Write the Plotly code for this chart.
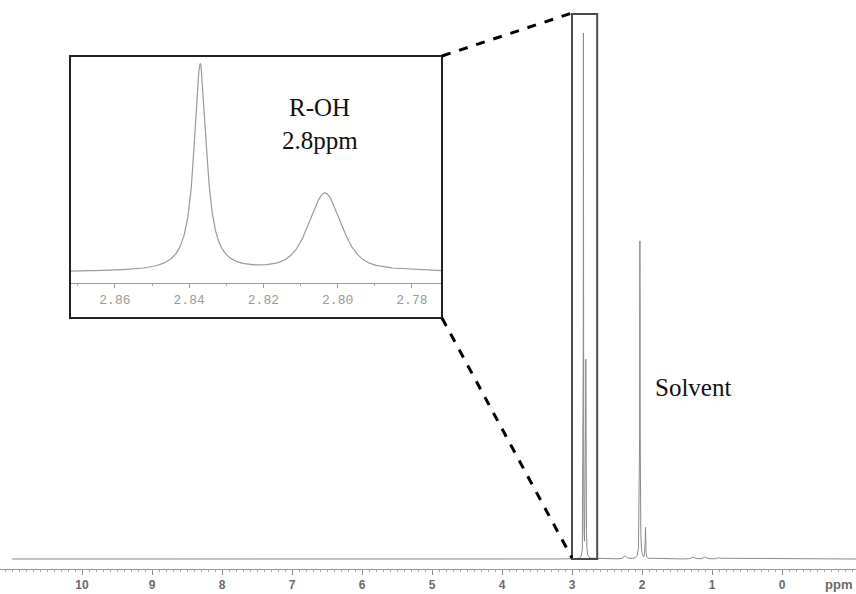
import numpy as np
import plotly.graph_objects as go

# ---- data (ppm, height in arbitrary units, half-width in ppm,
#      Lorentzian fraction of a pseudo-Voigt line shape)
peak_ppm = [2.837, 2.8034, 2.03, 1.95, 2.24, 1.27, 1.10, 0.90]
peak_height = [523, 198, 318, 31, 3, 2, 2, 1.5]
peak_hwhm = [0.002, 0.00525, 0.004, 0.004, 0.02, 0.02, 0.02, 0.02]
peak_lorentz = [1.0, 0.6, 1.0, 1.0, 1.0, 1.0, 1.0, 1.0]

main_ticks = [10, 9, 8, 7, 6, 5, 4, 3, 2, 1, 0]
inset_ticks = [2.86, 2.84, 2.82, 2.80, 2.78]

W, H = 856, 594

def spectrum(x):
    y = np.zeros_like(x)
    for c, h, g, eta in zip(peak_ppm, peak_height, peak_hwhm, peak_lorentz):
        lor = g**2 / ((x - c) ** 2 + g**2)
        gau = np.exp(-np.log(2) * ((x - c) / g) ** 2)
        y += h * (eta * lor + (1 - eta) * gau)
    return y

x_main = np.unique(np.concatenate([np.arange(-1.07, 11.0, 0.0005), peak_ppm]))
y_main = spectrum(x_main)
x_in = np.unique(np.concatenate([np.linspace(2.7719, 2.8721, 1500), peak_ppm[:2]]))
y_in = spectrum(x_in)

def px(xp):
    return xp / W

def py(yp):
    return 1 - yp / H

fig = go.Figure()
fig.add_trace(go.Scatter(x=x_main, y=y_main, mode="lines",
                         line=dict(color="#8a8a8a", width=1), xaxis="x", yaxis="y",
                         hoverinfo="skip", showlegend=False))
fig.add_trace(go.Scatter(x=x_in, y=y_in, mode="lines",
                         line=dict(color="#9a9a9a", width=1.2), xaxis="x2", yaxis="y2",
                         hoverinfo="skip", showlegend=False))

s = 523 / 207.0
fig.update_layout(
    width=W, height=H, margin=dict(l=0, r=0, t=0, b=0),
    paper_bgcolor="white", plot_bgcolor="white", showlegend=False,
    xaxis=dict(domain=[0, 1], range=[(782 - 0) / 70, (782 - 856) / 70],
               tickvals=main_ticks, ticktext=["<b>%d</b>" % t for t in main_ticks],
               showline=True, linecolor="#9a9a9a", linewidth=1,
               ticks="outside", ticklen=5, tickcolor="#8a8a8a",
               minor=dict(dtick=0.1, ticks="outside", ticklen=2, tickcolor="#aaaaaa"),
               showgrid=False, zeroline=False,
               tickfont=dict(family="Liberation Sans, Arial", size=12, color="#6a6a6a"),
               anchor="y"),
    yaxis=dict(domain=[25 / H, 1], range=[-10, 559], visible=False, anchor="x"),
    xaxis2=dict(domain=[px(70), px(442)], range=[2.8721, 2.7719],
                tickvals=inset_ticks, ticktext=["%.2f" % t for t in inset_ticks],
                showline=True, linecolor="#9a9a9a", linewidth=1,
                ticks="outside", ticklen=4, tickcolor="#9a9a9a",
                minor=dict(dtick=0.01, ticks="outside", ticklen=2, tickcolor="#aaaaaa"),
                showgrid=False, zeroline=False,
                tickfont=dict(family="Liberation Mono, DejaVu Sans Mono", size=13, color="#9a9a9a"),
                anchor="y2"),
    yaxis2=dict(domain=[py(283), py(56)], range=[-11 * s, 216 * s], visible=False, anchor="x2"),
)

shapes = [
    # inset frame
    dict(type="rect", xref="paper", yref="paper", x0=px(70), x1=px(442), y0=py(318), y1=py(56),
         line=dict(color="#222222", width=2), layer="above"),
    # zoom box on main spectrum
    dict(type="rect", xref="x", yref="y", x0=3.0, x1=2.64, y0=0, y1=545,
         line=dict(color="#4a4a4a", width=2)),
    # dashed connectors
    dict(type="line", xref="paper", yref="paper", x0=px(442), y0=py(56), x1=px(572), y1=py(13),
         line=dict(color="black", width=3, dash="dash")),
    dict(type="line", xref="paper", yref="paper", x0=px(442), y0=py(318), x1=px(572), y1=py(558),
         line=dict(color="black", width=3, dash="dash")),
]
fig.update_layout(shapes=shapes)

serif = "Liberation Serif, Times New Roman, serif"
def label(xp, yp, text, font):
    fig.add_annotation(x=px(xp), y=py(yp), xref="paper", yref="paper", text=text,
                       xanchor="center", yanchor="middle", showarrow=False, font=font)

label(319, 107, "R-OH", dict(family=serif, size=25, color="#111111"))
label(320, 140, "2.8ppm", dict(family=serif, size=25, color="#111111"))
label(693, 387, "Solvent", dict(family=serif, size=25, color="#111111"))
label(838, 584, "<b>ppm</b>", dict(family="Liberation Sans, Arial", size=13, color="#6a6a6a"))

fig.write_html("out.html", config={"displayModeBar": False},
               post_script="document.body.style.margin='0';document.body.style.padding='0';"
                           "document.documentElement.style.overflow='hidden';")
